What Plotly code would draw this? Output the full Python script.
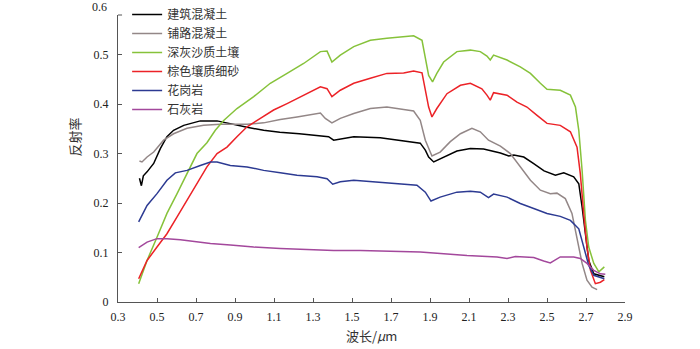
import plotly.graph_objects as go

# ---- data ----
names = ["建筑混凝土", "铺路混凝土", "深灰沙质土壤", "棕色壤质细砂", "花岗岩", "石灰岩"]
colors = ["#000000", "#938787", "#86c23a", "#ec2227", "#2c3a92", "#a3489c"]

w_black = [0.41, 0.42, 0.43, 0.449, 0.483, 0.517, 0.551, 0.585, 0.637, 0.722, 0.808, 0.876, 0.962, 1.047,
           1.13, 1.23, 1.33, 1.38, 1.406, 1.44, 1.509, 1.645, 1.748, 1.85, 1.876, 1.893, 1.919, 1.97, 2.038,
           2.107, 2.175, 2.261, 2.304, 2.33, 2.381, 2.43, 2.485, 2.543, 2.586, 2.637, 2.663, 2.68, 2.697,
           2.714, 2.74, 2.774, 2.794]
v_black = [0.25, 0.235, 0.255, 0.263, 0.28, 0.31, 0.334, 0.347, 0.357, 0.366, 0.366, 0.36, 0.353, 0.347,
           0.343, 0.34, 0.336, 0.334, 0.327, 0.329, 0.334, 0.332, 0.327, 0.321, 0.307, 0.293, 0.283, 0.293, 0.305,
           0.31, 0.309, 0.301, 0.295, 0.297, 0.293, 0.28, 0.265, 0.256, 0.261, 0.253, 0.239, 0.192, 0.131,
           0.084, 0.057, 0.054, 0.051]

w_gray = [0.41, 0.423, 0.449, 0.483, 0.534, 0.585, 0.654, 0.739, 0.825, 0.962, 1.047, 1.132, 1.218, 1.338,
          1.363, 1.397, 1.44, 1.509, 1.594, 1.679, 1.765, 1.816, 1.85, 1.876, 1.91, 1.952, 2.004, 2.056,
          2.115, 2.158, 2.2, 2.261, 2.312, 2.363, 2.415, 2.466, 2.517, 2.551, 2.594, 2.628, 2.654, 2.68,
          2.705, 2.731, 2.757]
v_gray = [0.285, 0.283, 0.293, 0.303, 0.327, 0.34, 0.351, 0.357, 0.359, 0.359, 0.362, 0.369, 0.374, 0.382,
          0.371, 0.362, 0.371, 0.381, 0.391, 0.394, 0.389, 0.386, 0.367, 0.327, 0.295, 0.303, 0.324, 0.34,
          0.351, 0.344, 0.327, 0.315, 0.3, 0.273, 0.246, 0.226, 0.219, 0.22, 0.209, 0.179, 0.131, 0.078,
          0.044, 0.03, 0.025]

w_green = [0.406, 0.449, 0.5, 0.551, 0.603, 0.654, 0.705, 0.756, 0.799, 0.842, 0.91, 0.996, 1.081, 1.167,
           1.252, 1.338, 1.372, 1.397, 1.44, 1.509, 1.594, 1.679, 1.765, 1.816, 1.859, 1.876, 1.893, 1.913,
           1.935, 1.97, 2.038, 2.107, 2.158, 2.192, 2.209, 2.226, 2.295, 2.363, 2.415, 2.466, 2.5, 2.568,
           2.62, 2.646, 2.663, 2.68, 2.697, 2.714, 2.74, 2.766, 2.794]
v_green = [0.037, 0.084, 0.131, 0.179, 0.219, 0.26, 0.3, 0.322, 0.347, 0.367, 0.391, 0.415, 0.442, 0.462,
           0.482, 0.506, 0.507, 0.485, 0.499, 0.516, 0.529, 0.533, 0.536, 0.538, 0.529, 0.495, 0.458, 0.445,
           0.462, 0.485, 0.506, 0.509, 0.506, 0.497, 0.489, 0.499, 0.489, 0.475, 0.462, 0.442, 0.43, 0.428,
           0.418, 0.394, 0.347, 0.266, 0.165, 0.111, 0.078, 0.061, 0.071]

w_red = [0.406, 0.449, 0.5, 0.551, 0.603, 0.654, 0.705, 0.756, 0.808, 0.859, 0.91, 0.962, 1.03, 1.098,
         1.167, 1.252, 1.338, 1.372, 1.397, 1.44, 1.509, 1.594, 1.679, 1.765, 1.816, 1.859, 1.876, 1.893,
         1.91, 1.935, 1.987, 2.056, 2.107, 2.166, 2.192, 2.209, 2.226, 2.295, 2.346, 2.397, 2.449, 2.5,
         2.568, 2.62, 2.654, 2.671, 2.688, 2.705, 2.723, 2.748, 2.774, 2.794]
v_red = [0.047, 0.084, 0.111, 0.138, 0.172, 0.206, 0.239, 0.273, 0.3, 0.313, 0.334, 0.354, 0.371, 0.388,
         0.401, 0.418, 0.435, 0.431, 0.415, 0.428, 0.442, 0.452, 0.462, 0.463, 0.467, 0.463, 0.428, 0.394,
         0.374, 0.391, 0.421, 0.438, 0.442, 0.431, 0.418, 0.408, 0.423, 0.418, 0.404, 0.394, 0.377, 0.361,
         0.357, 0.344, 0.313, 0.259, 0.179, 0.111, 0.064, 0.037, 0.04, 0.045]

w_blue = [0.406, 0.449, 0.5, 0.551, 0.594, 0.654, 0.722, 0.774, 0.808, 0.876, 0.962, 1.047, 1.132, 1.218,
          1.321, 1.372, 1.401, 1.44, 1.509, 1.611, 1.714, 1.833, 1.876, 1.905, 1.952, 2.038, 2.107, 2.158,
          2.2, 2.226, 2.295, 2.363, 2.432, 2.5, 2.568, 2.62, 2.663, 2.688, 2.714, 2.74, 2.774, 2.794]
v_blue = [0.162, 0.195, 0.219, 0.246, 0.261, 0.266, 0.276, 0.283, 0.283, 0.276, 0.273, 0.266, 0.261, 0.256,
          0.253, 0.249, 0.238, 0.243, 0.246, 0.243, 0.241, 0.236, 0.222, 0.204, 0.212, 0.222, 0.224, 0.222,
          0.211, 0.218, 0.212, 0.199, 0.189, 0.179, 0.173, 0.165, 0.148, 0.111, 0.074, 0.054, 0.049, 0.047]

w_purple = [0.406, 0.449, 0.5, 0.551, 0.62, 0.688, 0.774, 0.876, 0.996, 1.132, 1.269, 1.406, 1.543, 1.679,
            1.85, 1.919, 2.09, 2.244, 2.295, 2.338, 2.432, 2.483, 2.517, 2.568, 2.637, 2.671, 2.705, 2.74,
            2.774, 2.799]
v_purple = [0.11, 0.121, 0.128, 0.128, 0.126, 0.123, 0.118, 0.115, 0.111, 0.108, 0.106, 0.104, 0.104, 0.103,
            0.101, 0.099, 0.094, 0.091, 0.088, 0.092, 0.09, 0.083, 0.079, 0.091, 0.091, 0.088, 0.078, 0.064,
            0.057, 0.056]

x_ticks = [0.3, 0.5, 0.7, 0.9, 1.1, 1.3, 1.5, 1.7, 1.9, 2.1, 2.3, 2.5, 2.7, 2.9]
x_ticktext = ["0.3", "0.5", "0.7", "0.9", "1.1", "1.3", "1.5", "1.7", "1.9", "2.1", "2.3", "2.5", "2.7", "2.9"]
y_ticks = [0, 0.1, 0.2, 0.3, 0.4, 0.5]
y_ticktext = ["0", "0.1", "0.2", "0.3", "0.4", "0.5"]
y_top_label = "0.6"
x_title = "波长/<i>μ</i>m"
y_title = "反射率"

series = [(w_black, v_black), (w_gray, v_gray), (w_green, v_green),
          (w_red, v_red), (w_blue, v_blue), (w_purple, v_purple)]

FONT = "Liberation Serif, 'Noto Sans CJK SC', serif"
AXC = "#555555"

fig = go.Figure()
for (wx, vy), nm, c in zip(series, names, colors):
    fig.add_trace(go.Scatter(x=wx, y=vy, mode="lines", name=nm,
                             line=dict(color=c, width=1.5)))

fig.update_layout(
    width=700, height=349,
    margin=dict(l=118, r=75, t=15, b=47, autoexpand=False),
    paper_bgcolor="white", plot_bgcolor="white",
    font=dict(family=FONT, size=12, color="#222222"),
    showlegend=True,
    legend=dict(x=0.018, y=1.052, xanchor="left", yanchor="top",
                bgcolor="rgba(0,0,0,0)", borderwidth=0,
                font=dict(family="'Noto Sans CJK SC', sans-serif", size=12, color="#333333"),
                tracegroupgap=0),
    xaxis=dict(range=[0.3, 2.9], tickvals=x_ticks, ticktext=x_ticktext,
               showgrid=False, zeroline=False, showline=True, linecolor=AXC, linewidth=1,
               ticks="inside", ticklen=4, tickcolor=AXC, ticklabelstandoff=4,
               tickfont=dict(family=FONT, size=12, color="#222222")),
    yaxis=dict(range=[0, 0.58], tickvals=y_ticks, ticktext=y_ticktext,
               showgrid=False, zeroline=False, showline=True, linecolor=AXC, linewidth=1,
               ticks="inside", ticklen=4, tickcolor=AXC, ticklabelstandoff=6,
               tickfont=dict(family=FONT, size=12, color="#222222")),
    annotations=[
        dict(text=y_title, xref="paper", yref="paper", x=-0.084, y=0.575,
             textangle=-90, showarrow=False, xanchor="center", yanchor="middle",
             font=dict(family="'Noto Sans CJK SC', sans-serif", size=13, color="#333333")),
        dict(text=x_title, xref="paper", yref="paper", x=0.5, y=-0.118,
             showarrow=False, xanchor="center", yanchor="middle",
             font=dict(family="'Noto Sans CJK SC', Liberation Serif, serif", size=13, color="#333333")),
        dict(text=y_top_label, xref="paper", yref="paper", x=-0.017, y=1.028,
             showarrow=False, xanchor="right", yanchor="middle",
             font=dict(family=FONT, size=12, color="#222222")),
    ],
    shapes=[dict(type="line", xref="paper", yref="paper", x0=0, x1=0.008, y0=1, y1=1,
                 line=dict(color=AXC, width=1))],
)

fig.write_html("out.html", config={"displayModeBar": False},
               post_script="document.body.style.margin='0px';document.body.style.overflow='hidden';")
